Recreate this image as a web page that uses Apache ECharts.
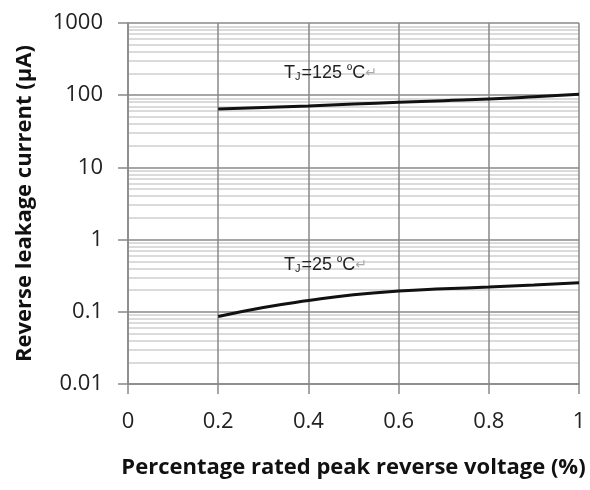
<!DOCTYPE html>
<html><head><meta charset="utf-8">
<script src="https://cdn.jsdelivr.net/npm/echarts@6/dist/echarts.min.js"></script>
<style>html,body{margin:0;padding:0;background:#fff}#c{width:590px;height:490px}</style>
</head><body><div id="c"></div>
<script>
const xValues = [0.2, 0.3, 0.4, 0.5, 0.6, 0.7, 0.8, 0.9, 1.0];
const current125 = [64.5, 67.5, 71, 75.5, 79.7, 84, 88.5, 95, 103];
const current25 = [0.086, 0.115, 0.143, 0.172, 0.194, 0.208, 0.22, 0.235, 0.252];
const xTicks = [0, 0.2, 0.4, 0.6, 0.8, 1];
const yTicks = [0.01, 0.1, 1, 10, 100, 1000];
const label125 = {x: 0.346, y: 203, text: '125'};
const label25 = {x: 0.346, y: 0.445, text: '25'};

const FONT = '"Open Sans", Lato, sans-serif';
function richLabel(t) {
  return '{t|T}{s|J}{t|=' + t + ' }{d|º}{t|C}{r|↵}';
}
const rich = {
  t: {fontFamily: 'Liberation Sans, Arial', fontSize: 18, color: '#222'},
  d: {fontFamily: 'Liberation Sans, Arial', fontSize: 14, color: '#222', padding: [0, 0, 4, 0]},
  s: {fontFamily: 'Liberation Sans, Arial', fontSize: 11, color: '#222', padding: [7, 1, 0, 0]},
  r: {fontFamily: 'DejaVu Sans', fontSize: 14, color: '#aaa'}
};
function mp(l) {
  return {
    symbol: 'circle', symbolSize: 0,
    data: [{coord: [l.x, l.y]}],
    label: {show: true, position: 'right', distance: 0, formatter: richLabel(l.text), rich: rich},
    silent: true
  };
}
const chart = echarts.init(document.getElementById('c'), null, {renderer: 'canvas'});
chart.setOption({
  animation: false,
  grid: {left: 128, right: 11, top: 23, bottom: 106},
  xAxis: {
    type: 'value', min: 0, max: 1, interval: 0.2,
    name: 'Percentage rated peak reverse voltage (%)', nameLocation: 'middle', nameGap: 73,
    nameTextStyle: {fontFamily: FONT, fontSize: 22, fontWeight: 'bold', color: '#111'},
    axisLine: {show: true, lineStyle: {color: '#888', width: 1.5}},
    axisTick: {show: true, length: 10, lineStyle: {color: '#888', width: 1.5}},
    axisLabel: {fontFamily: FONT, fontSize: 22, color: '#222', margin: 27,
      formatter: v => xTicks.includes(+v.toFixed(1)) ? String(+v.toFixed(1)) : ''},
    splitLine: {show: true, lineStyle: {color: '#888', width: 1.5}}
  },
  yAxis: {
    type: 'log', logBase: 10, min: 0.01, max: 1000,
    name: 'Reverse leakage current (µA)', nameLocation: 'middle', nameGap: 92, nameRotate: 90,
    nameTextStyle: {fontFamily: FONT, fontSize: 22, fontWeight: 'bold', color: '#111'},
    axisLine: {show: true, lineStyle: {color: '#888', width: 1.5}},
    axisTick: {show: true, length: 10, lineStyle: {color: '#888', width: 1.5}},
    axisLabel: {fontFamily: FONT, fontSize: 22, color: '#222', margin: 25,
      formatter: v => { const f = yTicks.find(t => Math.abs(t - v) / t < 1e-6); return f === undefined ? '' : String(f); }},
    splitLine: {show: true, lineStyle: {color: '#888', width: 1.5}},
    minorTick: {show: false, splitNumber: 9},
    minorSplitLine: {show: true, lineStyle: {color: '#d0d0d0', width: 1.5}}
  },
  series: [
    {type: 'line', data: xValues.map((x, i) => [x, current125[i]]), smooth: true, symbol: 'none',
     lineStyle: {color: '#111', width: 3}, markPoint: mp(label125)},
    {type: 'line', data: xValues.map((x, i) => [x, current25[i]]), smooth: true, symbol: 'none',
     lineStyle: {color: '#111', width: 3}, markPoint: mp(label25)}
  ]
});
</script></body></html>
